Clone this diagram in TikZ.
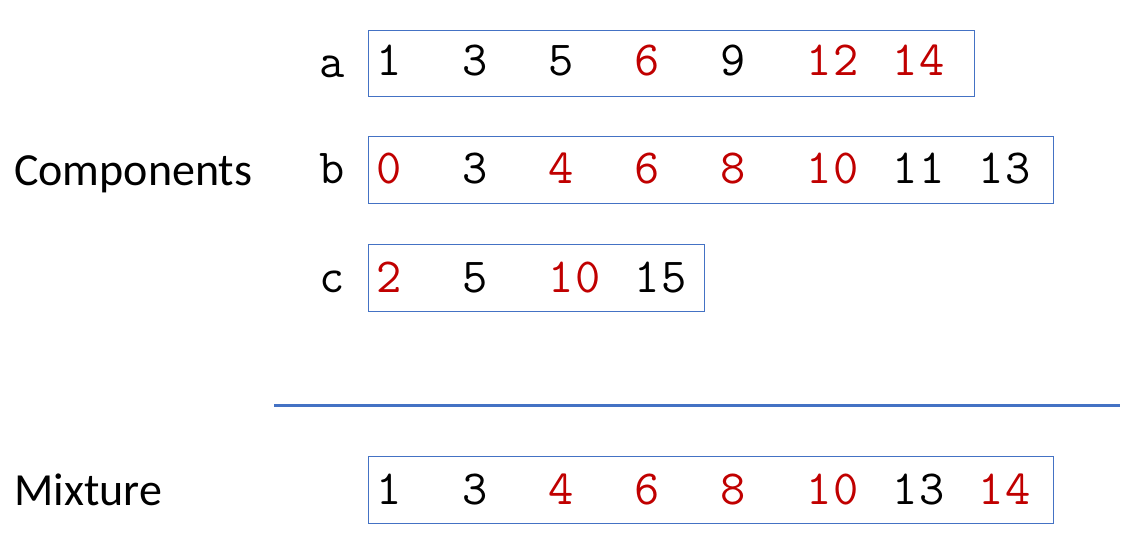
\documentclass[tikz,border=0pt]{standalone}
\usepackage{fontspec}
\setsansfont{Carlito}
\newfontfamily\cour[LetterSpace=5]{Latin Modern Mono}
\definecolor{hired}{HTML}{C00000}
\definecolor{boxblue}{HTML}{4472C4}
\begin{document}
\begin{tikzpicture}[x=1pt,y=-1pt,
  num/.style={inner sep=0pt,anchor=base west,font=\fontsize{49}{50}\selectfont\cour},
  rnum/.style={num,text=hired},
  lab/.style={inner sep=0pt,anchor=base west,font=\fontsize{46}{50}\selectfont\sffamily},
  box/.style={draw=boxblue,line width=1.2pt,inner sep=0pt,anchor=north west}]
\useasboundingbox (0,0) rectangle (1130,556);
% boxes
\node[box,minimum width=606pt,minimum height=66pt] (boxa) at (368,30) {};
\node[box,minimum width=685pt,minimum height=67pt] (boxb) at (368,136) {};
\node[box,minimum width=336pt,minimum height=67pt] (boxc) at (368,244) {};
\node[box,minimum width=685pt,minimum height=67pt] (boxm) at (368,456) {};
% side labels
\node[lab] (comp) at (14,186) {Components};
\node[lab] (mix) at (14,505) {Mixture};
\node[num] (la) at (319,78) {a};
\node[num] (lb) at (319,184) {b};
\node[num] (lc) at (319,292) {c};
% row a
\node[num]  (a0) at (376,76) {1};
\node[num]  (a1) at (462,76) {3};
\node[num]  (a2) at (548,76) {5};
\node[rnum] (a3) at (634,76) {6};
\node[num]  (a4) at (720,76) {9};
\node[rnum] (a5) at (806,76) {12};
\node[rnum] (a6) at (892,76) {14};
% row b
\node[rnum] (b0) at (376,184) {0};
\node[num]  (b1) at (462,184) {3};
\node[rnum] (b2) at (548,184) {4};
\node[rnum] (b3) at (634,184) {6};
\node[rnum] (b4) at (720,184) {8};
\node[rnum] (b5) at (806,184) {10};
\node[num]  (b6) at (892,184) {11};
\node[num]  (b7) at (978,184) {13};
% row c
\node[rnum] (c0) at (376,292) {2};
\node[num]  (c1) at (462,292) {5};
\node[rnum] (c2) at (548,292) {10};
\node[num]  (c3) at (634,292) {15};
% mixture
\node[num]  (m0) at (376,504) {1};
\node[num]  (m1) at (462,504) {3};
\node[rnum] (m2) at (548,504) {4};
\node[rnum] (m3) at (634,504) {6};
\node[rnum] (m4) at (720,504) {8};
\node[rnum] (m5) at (806,504) {10};
\node[num]  (m6) at (892,504) {13};
\node[rnum] (m7) at (978,504) {14};
% separator
\coordinate (s1) at (274,405);
\coordinate (s2) at (1120,405);
\draw[boxblue,line width=3pt] (s1) -- (s2);
\end{tikzpicture}
\end{document}
